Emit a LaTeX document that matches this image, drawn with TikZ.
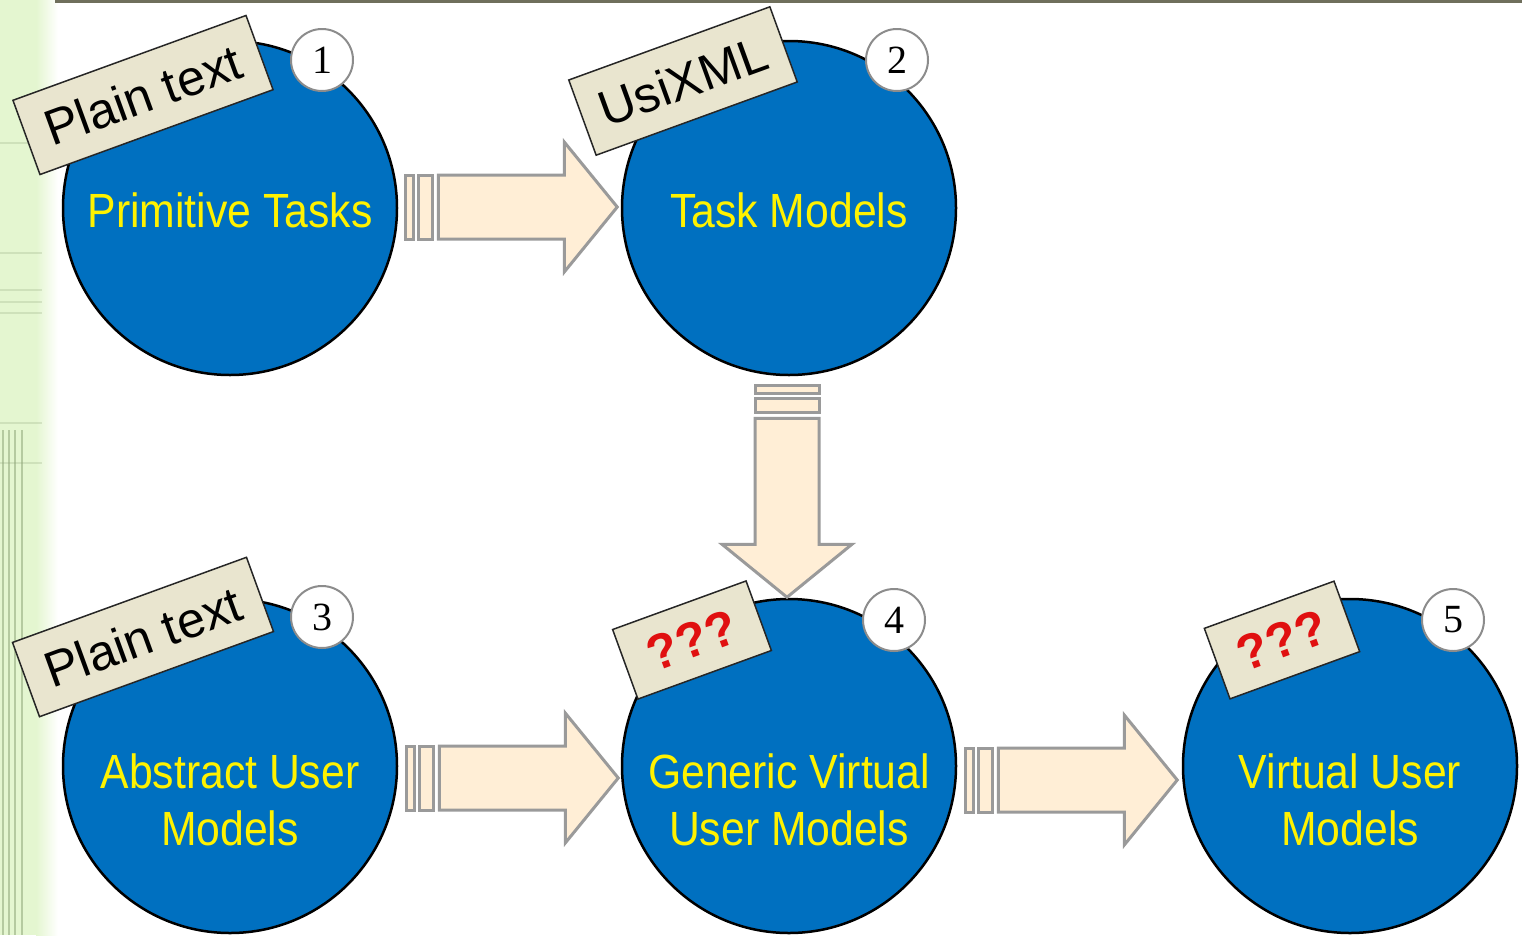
\documentclass[tikz,border=0pt]{standalone}
\usepackage{fontspec}
\setmainfont{Liberation Sans}
\newfontfamily\narrowfont[FakeStretch=0.89]{Liberation Sans}
\newfontfamily\numfont{Liberation Serif}
\usetikzlibrary{calc}

\definecolor{modelblue}{HTML}{0070C0}
\definecolor{tagfill}{HTML}{E9E5CF}
\definecolor{arrowfill}{HTML}{FFEED6}
\definecolor{arrowline}{HTML}{9A9A9A}
\definecolor{stripgreen}{HTML}{E4F6D0}
\definecolor{stripline}{HTML}{8FA67A}
\definecolor{topline}{HTML}{6F6F5C}
\definecolor{qred}{HTML}{E01010}

\tikzset{
  modelnode/.style={circle, fill=modelblue, draw=black, line width=2.5, minimum size=334, inner sep=0},
  modeltext/.style={text=yellow, font=\narrowfont\fontsize{48}{57}\selectfont, align=center},
  tagbox/.style={draw=black!85, line width=1.5, fill=tagfill, rotate=20, inner sep=0, font=\fontsize{50}{54}\selectfont},
  numbox/.style={circle, fill=white, draw=black!45, line width=2, minimum size=62, inner sep=0, font=\numfont\fontsize{40}{40}\selectfont},
  arrowbox/.style={fill=arrowfill, draw=arrowline, line width=3, line join=miter},
}

% block arrow with two bars at its tail
\newcommand{\flowarrow}[2]{%
  \begin{scope}[shift={(#1)}, rotate=#2]
    \draw[arrowbox] (0,-32) rectangle (8,32);
    \draw[arrowbox] (13,-32) rectangle (27,32);
    \draw[arrowbox] (33,-32) -- (159,-32) -- (159,-65) -- (212,0) -- (159,65) -- (159,32) -- (33,32) -- cycle;
  \end{scope}}

\begin{document}
\begin{tikzpicture}[x=1pt, y=-1pt]
 \useasboundingbox (0,0) rectangle (1522,935);
 % backdrop
 \fill[stripgreen] (0,0) rectangle (36,935);
 \shade[left color=stripgreen, right color=white] (36,0) rectangle (58,935);
 \foreach \yy in {143, 253, 290, 302, 313, 423, 463}
   \draw[stripline, opacity=0.25, line width=1.2] (0,\yy) -- (42,\yy);
 \foreach \xx in {3, 9, 15, 22}
   \draw[stripline, opacity=0.55, line width=1.5] (\xx,430) -- (\xx,935);
 \draw[topline, line width=3] (55,1) -- (1522,1);

 \node[modelnode] (prim) at (230,208) {};
 \node[modelnode] (task) at (789,208) {};
 \node[modelnode] (abs) at (230,766) {};
 \node[modelnode] (gen) at (789,766) {};
 \node[modelnode] (virt) at (1350,766) {};

 \node[modeltext] (primtxt) at ($(prim)+(0,2)$) {Primitive Tasks};
 \node[modeltext] (tasktxt) at ($(task)+(0,2)$) {Task Models};
 \node[modeltext] (abstxt) at ($(abs)+(0,34)$) {Abstract User\\Models};
 \node[modeltext] (gentxt) at ($(gen)+(0,34)$) {Generic Virtual\\User Models};
 \node[modeltext] (virttxt) at ($(virt)+(0,34)$) {Virtual User\\Models};

 \coordinate (a1) at ($(prim.east)+(7,-1)$);
 \coordinate (a2) at ($(task.south)+(-2,9)$);
 \coordinate (a3) at ($(abs.east)+(8,12)$);
 \coordinate (a4) at ($(gen.east)+(8,14)$);
 \flowarrow{a1}{0}
 \flowarrow{a2}{-90}
 \flowarrow{a3}{0}
 \flowarrow{a4}{0}

 \node[tagbox, minimum width=248, minimum height=79] (tagprim) at ($(prim)+(-87,-113)$) {Plain text};
 \node[tagbox, minimum width=214, minimum height=80] (tagtask) at ($(task)+(-106,-127)$) {UsiXML};
 \node[tagbox, minimum width=249, minimum height=79] (tagabs) at ($(abs)+(-87,-129)$) {Plain text};
 \node[tagbox, minimum width=142, minimum height=74] (taggen) at ($(gen)+(-97,-126)$) {\textcolor{qred}{\bfseries ???}};
 \node[tagbox, minimum width=138, minimum height=75] (tagvirt) at ($(virt)+(-68,-126)$) {\textcolor{qred}{\bfseries ???}};

 \node[numbox] (n1) at ($(prim)+(92,-148)$) {1};
 \node[numbox] (n2) at ($(task)+(108,-148)$) {2};
 \node[numbox] (n3) at ($(abs)+(92,-149)$) {3};
 \node[numbox] (n4) at ($(gen)+(105,-146)$) {4};
 \node[numbox] (n5) at ($(virt)+(103,-146)$) {5};
\end{tikzpicture}
\end{document}
